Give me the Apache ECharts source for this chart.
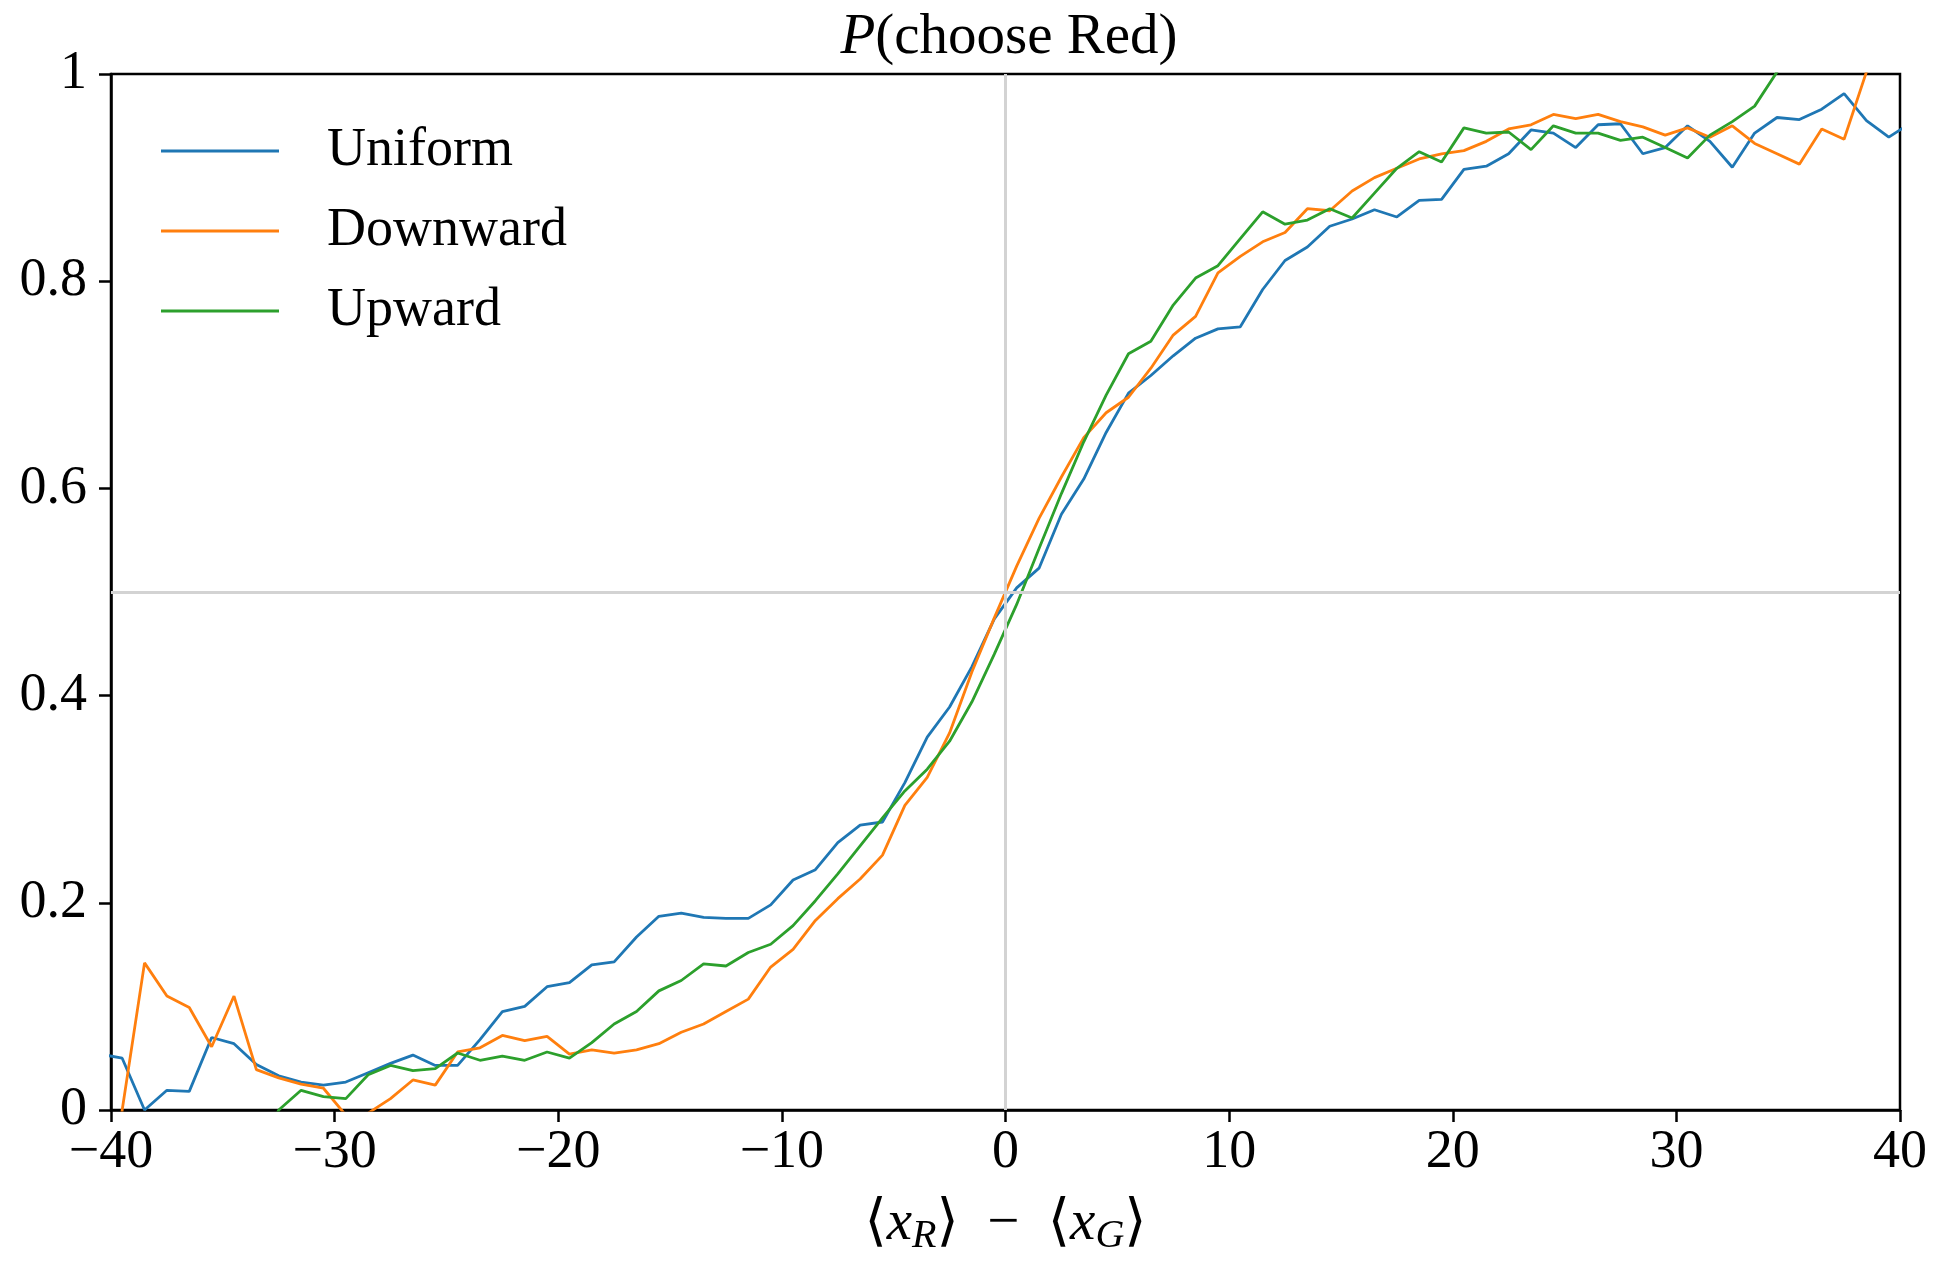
<!DOCTYPE html>
<html>
<head>
<meta charset="utf-8">
<script src="https://cdn.jsdelivr.net/npm/echarts@6/dist/echarts.min.js"></script>
<style>
html,body{margin:0;padding:0;background:#fff;}
#chart{width:1937px;height:1261px;}
</style>
</head>
<body>
<div id="chart"></div>
<script>
// x positions (bin centres)
var xs = [-40.5,-39.5,-38.5,-37.5,-36.5,-35.5,-34.5,-33.5,-32.5,-31.5,-30.5,-29.5,-28.5,-27.5,-26.5,-25.5,-24.5,-23.5,-22.5,-21.5,-20.5,-19.5,-18.5,-17.5,-16.5,-15.5,-14.5,-13.5,-12.5,-11.5,-10.5,-9.5,-8.5,-7.5,-6.5,-5.5,-4.5,-3.5,-2.5,-1.5,-0.5,0.5,1.5,2.5,3.5,4.5,5.5,6.5,7.5,8.5,9.5,10.5,11.5,12.5,13.5,14.5,15.5,16.5,17.5,18.5,19.5,20.5,21.5,22.5,23.5,24.5,25.5,26.5,27.5,28.5,29.5,30.5,31.5,32.5,33.5,34.5,35.5,36.5,37.5,38.5,39.5,40.5];

var uniform = [0.054,0.050,0.000,0.019,0.018,0.070,0.064,0.044,0.033,0.027,0.024,0.027,0.036,0.045,0.053,0.043,0.043,0.068,0.095,0.100,0.119,0.123,0.140,0.143,0.167,0.187,0.190,0.186,0.185,0.185,0.198,0.222,0.232,0.258,0.275,0.278,0.316,0.360,0.389,0.428,0.474,0.504,0.523,0.575,0.609,0.654,0.692,0.709,0.728,0.745,0.754,0.756,0.792,0.820,0.833,0.853,0.860,0.869,0.862,0.878,0.879,0.908,0.911,0.923,0.946,0.943,0.929,0.951,0.952,0.923,0.929,0.950,0.935,0.910,0.943,0.958,0.956,0.966,0.981,0.955,0.939,0.953];

var downward = [-0.300,0.000,0.142,0.110,0.099,0.061,0.110,0.039,0.031,0.025,0.021,-0.005,-0.003,0.011,0.029,0.024,0.056,0.060,0.072,0.067,0.071,0.054,0.058,0.055,0.058,0.064,0.075,0.083,0.095,0.107,0.138,0.155,0.183,0.204,0.223,0.246,0.294,0.321,0.364,0.423,0.475,0.525,0.571,0.611,0.649,0.673,0.688,0.716,0.748,0.766,0.808,0.824,0.838,0.847,0.870,0.868,0.887,0.900,0.909,0.918,0.923,0.926,0.935,0.947,0.951,0.961,0.957,0.961,0.954,0.949,0.941,0.948,0.939,0.950,0.933,0.923,0.913,0.947,0.937,1.002,1.060,1.100];

var upward = [-0.050,-0.050,-0.050,-0.050,-0.050,-0.050,-0.050,-0.050,0.000,0.019,0.013,0.011,0.034,0.043,0.038,0.040,0.055,0.048,0.052,0.048,0.056,0.050,0.065,0.083,0.095,0.115,0.125,0.141,0.139,0.152,0.160,0.178,0.202,0.228,0.255,0.282,0.308,0.329,0.356,0.394,0.440,0.488,0.542,0.595,0.645,0.690,0.730,0.742,0.777,0.803,0.815,0.841,0.867,0.855,0.859,0.870,0.861,0.885,0.909,0.925,0.915,0.948,0.943,0.944,0.927,0.950,0.943,0.943,0.936,0.939,0.929,0.919,0.941,0.954,0.969,1.002,1.040,1.060,1.080,1.100,1.120,1.140];

var seriesNames = ['Uniform','Downward','Upward'];
var seriesColors = ['#1f77b4','#ff7f0e','#2ca02c'];
var xTicks = [-40,-30,-20,-10,0,10,20,30,40];
var yTicks = [0,0.2,0.4,0.6,0.8,1];

var FONT = '"Liberation Serif", "DejaVu Serif", serif';
var FS = 54;

function pairs(ys){ return xs.map(function(x,i){ return [x, ys[i]]; }); }
var allY = [uniform, downward, upward];

var chart = echarts.init(document.getElementById('chart'), null, {renderer:'canvas'});

var series = [{
  type:'line', name:'_ref', data:[], z:1, silent:true,
  markLine:{
    silent:true, symbol:['none','none'], label:{show:false},
    lineStyle:{color:'#d3d3d3', width:3, type:'solid'},
    animation:false,
    data:[{xAxis:0},{yAxis:0.5}]
  }
}];
seriesNames.forEach(function(n,i){
  series.push({
    type:'line', name:n, data:pairs(allY[i]), showSymbol:false, symbol:'none',
    lineStyle:{color:seriesColors[i], width:2.8}, itemStyle:{color:seriesColors[i]},
    z:3, clip:true, animation:false
  });
});

chart.setOption({
  animation:false,
  backgroundColor:'#fff',
  title:{
    text:'{i|P}(choose Red)', left:1004, textAlign:'center', top:5,
    textStyle:{fontFamily:FONT, fontSize:57, fontWeight:'normal', color:'#000',
      rich:{i:{fontFamily:FONT, fontSize:57, fontStyle:'italic', color:'#000'}}}
  },
  legend:{
    data:seriesNames, orient:'vertical', left:161, top:120, padding:0,
    icon:'rect', itemWidth:118, itemHeight:3, itemGap:18,
    textStyle:{fontFamily:FONT, fontSize:FS, color:'#000', lineHeight:62, padding:[0,0,0,43]}
  },
  grid:{left:111, right:37, top:74, bottom:142, show:true, borderColor:'#000', borderWidth:2.5, backgroundColor:'transparent'},
  xAxis:{
    type:'value', min:-40, max:40, interval:10,
    axisLine:{show:true, onZero:false, lineStyle:{color:'#000', width:2.5}},
    axisTick:{show:true, length:12, inside:false, lineStyle:{color:'#000', width:2.5}},
    splitLine:{show:false},
    axisLabel:{fontFamily:FONT, fontSize:FS, color:'#000', margin:16,
      formatter:function(v){ return v<0 ? '\u2212'+(-v) : String(v); }},
    name:'\u27E8{i|x}{s|R}\u27E9\u2002\u2212\u2002\u27E8{i|x}{s|G}\u27E9',
    nameLocation:'middle', nameGap:82,
    nameTextStyle:{fontFamily:FONT, fontSize:57, color:'#000', lineHeight:64,
      rich:{
        i:{fontFamily:FONT, fontSize:57, fontStyle:'italic', color:'#000', lineHeight:64},
        s:{fontFamily:FONT, fontSize:40, fontStyle:'italic', color:'#000', lineHeight:64, verticalAlign:'bottom', padding:[14,0,0,0]}
      }}
  },
  yAxis:{
    type:'value', min:0, max:1, interval:0.2,
    axisLine:{show:true, onZero:false, lineStyle:{color:'#000', width:2.5}},
    axisTick:{show:true, length:12, inside:false, lineStyle:{color:'#000', width:2.5}},
    splitLine:{show:false},
    axisLabel:{fontFamily:FONT, fontSize:FS, color:'#000', margin:24,
      formatter:function(v){ if(Math.abs(v)<1e-9) return '0'; if(Math.abs(v-1)<1e-9) return '1'; return v.toFixed(1); }}
  },
  series:series
});
</script>
</body>
</html>
